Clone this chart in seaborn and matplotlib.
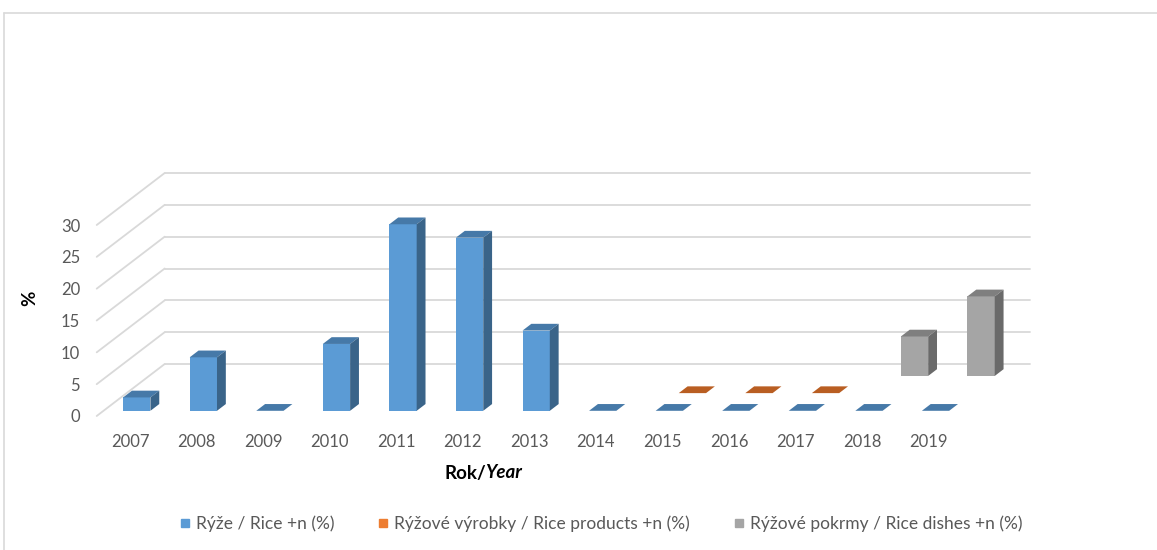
import matplotlib
matplotlib.use("Agg")
import matplotlib.pyplot as plt
import seaborn as sns
import pandas as pd
from matplotlib.patches import Polygon
from matplotlib.lines import Line2D

# ---------------- data ----------------
years = ["2007", "2008", "2009", "2010", "2011", "2012", "2013",
         "2014", "2015", "2016", "2017", "2018", "2019"]
rice = [2.1, 8.4, 0, 10.5, 29.3, 27.2, 12.6, 0, 0, 0, 0, 0, 0]
products_years = ["2015", "2016", "2017"]
products = [0, 0, 0]
dishes_years = ["2018", "2019"]
dishes = [6.2, 12.5]
y_ticks = [0, 5, 10, 15, 20, 25, 30]
series_labels = ["Rýže / Rice +n (%)",
                 "Rýžové výrobky / Rice products +n (%)",
                 "Rýžové pokrmy / Rice dishes +n (%)"]

df_rice = pd.DataFrame({"year": years, "value": rice})
df_products = pd.DataFrame({"year": products_years, "value": products})
df_dishes = pd.DataFrame({"year": dishes_years, "value": dishes})

# ---------------- style ----------------
sns.set_theme(style="white")
plt.rcParams["font.family"] = ["Lato", "DejaVu Sans"]

FW, FH = 1157, 550
fig = plt.figure(figsize=(FW / 100, FH / 100), dpi=100)
ax = fig.add_axes([96.7 / FW, 134 / FH, 865.3 / FW, 191 / FH])

ax.set_xlim(-0.5, len(years) - 0.5)
ax.set_ylim(0, 30)

# oblique depth vector (full wall depth) in pixels -> data units
bb = ax.get_position()
px_x = bb.width * FW / len(years)
px_y = bb.height * FH / 30.0
DX = 68 / px_x
DY = 52 / px_y

grid_c = "#D9D9D9"
# back wall and side wall grid lines
for v in y_ticks:
    ax.add_line(Line2D([-0.5 + DX, len(years) - 0.5 + DX], [v + DY, v + DY],
                       color=grid_c, lw=1.3, clip_on=False, zorder=0))
    ax.add_line(Line2D([-0.5, -0.5 + DX], [v, v + DY],
                       color=grid_c, lw=1.3, clip_on=False, zorder=0))

BAR_W = 0.41
BAR_D = 0.13
series = [
    # df, front, top, side, row depth, zorder
    (df_dishes, "#A5A5A5", "#7F7F7F", "#6A6A6A", 0.77, 1),
    (df_products, "#ED7D31", "#B95E22", "#9A4B17", 0.44, 2),
    (df_rice, "#5B9BD5", "#4679A8", "#3A6489", 0.10, 3),
]

for df, c_front, c_top, c_side, d, z in series:
    n0 = len(ax.patches)
    sns.barplot(data=df, x="year", y="value", order=years, color=c_front,
                saturation=1, width=BAR_W, errorbar=None, linewidth=0,
                zorder=z, ax=ax)
    new = list(ax.patches[n0:])
    for p in new:
        x = p.get_x()
        w = p.get_width()
        h = p.get_height()
        x0 = x + d * DX
        y0 = d * DY
        p.set_x(x0)
        p.set_y(y0)
        p.set_clip_on(False)
        y1 = y0 + h
        ddx, ddy = BAR_D * DX, BAR_D * DY
        top = Polygon([(x0, y1), (x0 + w, y1), (x0 + w + ddx, y1 + ddy),
                       (x0 + ddx, y1 + ddy)], closed=True, facecolor=c_top,
                      edgecolor="none", clip_on=False, zorder=z)
        side = Polygon([(x0 + w, y0), (x0 + w + ddx, y0 + ddy),
                        (x0 + w + ddx, y1 + ddy), (x0 + w, y1)], closed=True,
                       facecolor=c_side, edgecolor="none", clip_on=False,
                       zorder=z)
        ax.add_patch(top)
        ax.add_patch(side)

ax.set_xlim(-0.5, len(years) - 0.5)
ax.set_ylim(0, 30)
ax.set_yticks(y_ticks)
ax.set_xticks(range(len(years)))
ax.set_xticklabels(years)
ax.set_xlabel("")
ax.set_ylabel("")
ax.grid(False)
for s in ax.spines.values():
    s.set_visible(False)
ax.set_facecolor("none")
ax.tick_params(axis="both", length=0, labelsize=12, labelcolor="#595959")
ax.tick_params(axis="x", pad=13)
ax.tick_params(axis="y", pad=12)

# axis titles
t1 = fig.text(444 / FW, 1 - 473 / FH, "Rok/", fontsize=13.5, fontweight="bold",
              ha="left", va="center", color="black")
ax.annotate("Year", xy=(1, 0), xycoords=t1, xytext=(-0.5, 0),
            textcoords="offset points", ha="left", va="bottom",
            fontsize=13.5, fontweight="bold", fontstyle="italic", color="black")
fig.text(30 / FW, 1 - 298 / FH, "%", fontsize=13.5, fontweight="bold",
         rotation=90, ha="center", va="center", color="black")

# legend
handles = [Line2D([], [], marker="s", ls="", color=c, markersize=6)
           for c in ["#5B9BD5", "#ED7D31", "#A5A5A5"]]
fig.legend(handles=handles, labels=series_labels, loc="center",
           bbox_to_anchor=(600 / FW, 1 - 524 / FH), ncol=3, frameon=False,
           fontsize=12.5, labelcolor="#595959", handletextpad=0.25,
           columnspacing=2.4, handlelength=0.8)

# outer frame
fig.add_artist(Line2D([4 / FW, 4 / FW], [0, 1 - 13 / FH],
                      transform=fig.transFigure, color=grid_c, lw=1.2))
fig.add_artist(Line2D([4 / FW, 1], [1 - 13 / FH, 1 - 13 / FH],
                      transform=fig.transFigure, color=grid_c, lw=1.2))

fig.savefig("out.png", dpi=100)
